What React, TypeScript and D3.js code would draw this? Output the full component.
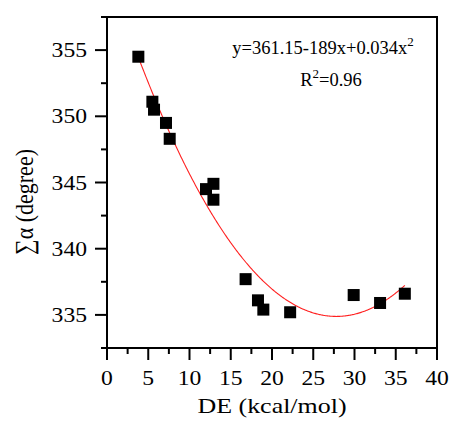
import React from 'react';
import * as d3 from 'd3';

const width = 450;
const height = 429;
const margin = { top: 17, right: 13, bottom: 81, left: 107 };

// measured points: DE (kcal/mol) vs sum of alpha (degree)
const deValues = [3.8, 5.5, 5.7, 7.15, 7.6, 12.0, 12.9, 12.9, 16.8, 18.3, 18.95, 22.2, 29.9, 33.1, 36.1];
const alphaSums = [354.5, 351.1, 350.5, 349.5, 348.3, 344.5, 344.9, 343.7, 337.7, 336.1, 335.4, 335.2, 336.5, 335.9, 336.6];

// quadratic fit (label prints 189, the curve uses 1.89)
const fitCoef = [361.15, -1.89, 0.034];
const fitRange = [3.8, 36.1];

const xTicks = [0, 5, 10, 15, 20, 25, 30, 35, 40];
const yTicks = [335, 340, 345, 350, 355];

const FONT = '"Liberation Serif", "Times New Roman", serif';
const SX = 1.18; // the source text looks stretched sideways

const Txt = ({ x, y, size, anchor = 'middle', rotate = 0, children }: any) => (
  <text
    transform={`translate(${x},${y}) scale(${SX},1) rotate(${rotate})`}
    textAnchor={anchor}
    style={{ fontFamily: FONT, fontSize: size }}
    fill="#000"
  >
    {children}
  </text>
);

export default function App() {
  const innerW = width - margin.left - margin.right;
  const innerH = height - margin.top - margin.bottom;

  const x = d3.scaleLinear().domain([0, 40]).range([margin.left, margin.left + innerW]);
  const y = d3.scaleLinear().domain([332.5, 357.5]).range([margin.top + innerH, margin.top]);

  const fit = (v: number) => fitCoef[0] + fitCoef[1] * v + fitCoef[2] * v * v;
  const curveXs = d3.range(fitRange[0], fitRange[1], 0.1).concat([fitRange[1]]);
  const line = d3
    .line<number>()
    .x(d => x(d))
    .y(d => y(fit(d)))
    .curve(d3.curveMonotoneX);

  const xMinor = d3.range(0, 40.01, 2.5).filter(v => v % 5 !== 0);
  const yMinor = d3.range(332.5, 357.6, 2.5).filter(v => v % 5 !== 0);

  const x0 = margin.left;
  const x1 = margin.left + innerW;
  const y0 = margin.top + innerH;
  const y1 = margin.top;
  const size = 12;

  return (
    <svg width={width} height={height} style={{ position: 'absolute', left: 0, top: 0 }}>
      <rect x={0} y={0} width={width} height={height} fill="#fff" />

      {/* fitted curve */}
      <path d={line(curveXs) || ''} fill="none" stroke="#ff2020" strokeWidth={1.1} />

      {/* points */}
      {deValues.map((d, i) => (
        <rect
          key={i}
          x={x(d) - size / 2}
          y={y(alphaSums[i]) - size / 2}
          width={size}
          height={size}
          fill="#000"
        />
      ))}

      {/* frame */}
      <rect x={x0} y={y1} width={innerW} height={innerH} fill="none" stroke="#000" strokeWidth={2} />

      {/* x ticks */}
      {xTicks.map(t => (
        <g key={'xt' + t}>
          <line x1={x(t)} x2={x(t)} y1={y0} y2={y0 + 12} stroke="#000" strokeWidth={2} />
          <Txt x={x(t)} y={y0 + 37} size={20}>{t}</Txt>
        </g>
      ))}
      {xMinor.map(t => (
        <line key={'xm' + t} x1={x(t)} x2={x(t)} y1={y0} y2={y0 + 6} stroke="#000" strokeWidth={2} />
      ))}

      {/* y ticks */}
      {yTicks.map(t => (
        <g key={'yt' + t}>
          <line x1={x0 - 12} x2={x0} y1={y(t)} y2={y(t)} stroke="#000" strokeWidth={2} />
          <Txt x={x0 - 20} y={y(t) + 7} size={20} anchor="end">{t}</Txt>
        </g>
      ))}
      {yMinor.map(t => (
        <line key={'ym' + t} x1={x0 - 6} x2={x0} y1={y(t)} y2={y(t)} stroke="#000" strokeWidth={2} />
      ))}

      {/* axis titles */}
      <Txt x={(x0 + x1) / 2} y={413} size={22}>DE (kcal/mol)</Txt>
      <Txt x={33} y={202} size={22} rotate={-90}>∑α (degree)</Txt>

      {/* fit annotation */}
      <text x={323} y={54} textAnchor="middle" style={{ fontFamily: FONT, fontSize: 18.5 }}>
        y=361.15-189x+0.034x<tspan dy={-8} fontSize={13}>2</tspan>
      </text>
      <text x={331} y={86} textAnchor="middle" style={{ fontFamily: FONT, fontSize: 18.5 }}>
        R<tspan dy={-8} fontSize={13}>2</tspan><tspan dy={8}>=0.96</tspan>
      </text>
    </svg>
  );
}
